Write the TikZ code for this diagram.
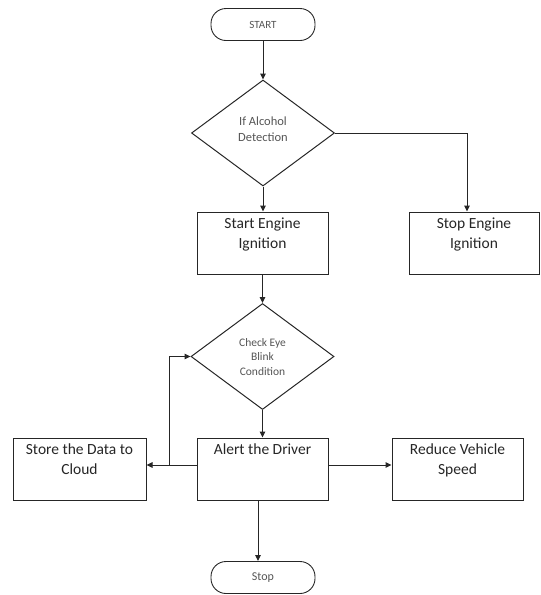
\documentclass[tikz,border=0pt]{standalone}
\usepackage{fontspec}
\setmainfont{Carlito}
\usetikzlibrary{shapes.geometric,arrows.meta}

\definecolor{ink}{HTML}{262626}
\definecolor{soft}{HTML}{555555}

\tikzset{
  terminal/.style={draw=ink, line width=0.9pt, rounded corners=15pt,
    minimum width=104pt, minimum height=32pt, inner sep=0pt,
    font=\fontsize{11}{13}\selectfont, text=soft},
  decision/.style={draw=ink, line width=1pt, diamond, inner sep=0pt,
    minimum width=143pt, minimum height=106pt},
  dectext/.style={align=center, inner sep=0pt, text=soft},
  stepbox/.style={draw=ink, line width=1pt, rectangle,
    minimum width=131pt, minimum height=62pt, inner sep=0pt},
  boxtext/.style={align=center, inner sep=0pt, anchor=north, text=ink,
    font=\fontsize{15.5}{20.5}\selectfont},
  arr/.style={draw=ink, line width=1pt, -{Triangle[length=6pt,width=5.5pt]}}
}

\begin{document}
\begin{tikzpicture}[x=1pt, y=-1pt]
  \useasboundingbox (0,0) rectangle (541,595);

  % terminals
  \node[terminal] (start) at (263,24.5) {START};
  \node[terminal, font=\fontsize{12}{14}\selectfont] (stop) at (263,577.5) {Stop};

  % decisions
  \node[decision] (d1) at (263,133) {};
  \node[dectext, font=\fontsize{12.5}{16.5}\selectfont] (d1t) at (263,129) {If Alcohol\\Detection};
  \node[decision] (d2) at (262.5,356.5) {};
  \node[dectext, font=\fontsize{11.5}{14.5}\selectfont] (d2t) at (262.5,357) {Check Eye\\Blink\\Condition};

  % process boxes
  \node[stepbox] (starteng) at (262.5,243) {};
  \node[boxtext] (startengt) at ([yshift=-6pt]starteng.north) {Start Engine\\Ignition};
  \node[stepbox, minimum width=130pt] (stopeng) at (474,243) {};
  \node[boxtext] (stopengt) at ([yshift=-6pt]stopeng.north) {Stop Engine\\Ignition};

  \node[stepbox] (alert) at (262.5,469) {};
  \node[boxtext] (alertt) at ([yshift=-6pt]alert.north) {Alert the Driver};
  \node[stepbox, minimum width=133pt] (store) at (79.5,469) {};
  \node[boxtext] (storet) at ([yshift=-6pt]store.north) {Store the Data to\\Cloud};
  \node[stepbox] (reduce) at (457.5,469) {};
  \node[boxtext] (reducet) at ([yshift=-6pt]reduce.north) {Reduce Vehicle\\Speed};

  % connectors
  \draw[arr] (start.south) -- (d1.north);
  \draw[arr] (d1.south) -- (d1.south |- starteng.north);
  \draw[arr] (d1.east) -| ([xshift=-7pt]stopeng.north);
  \draw[arr] (starteng.south) -- (d2.north);
  \draw[arr] (d2.south) -- (d2.south |- alert.north);
  \draw[arr] ([yshift=4pt]alert.west) -- ([yshift=4pt]store.east);
  \coordinate (loop) at (169,465);
  \draw[arr] (loop) |- (d2.west);
  \draw[arr] ([yshift=4pt]alert.east) -- ([yshift=4pt]reduce.west);
  \draw[arr] ([xshift=-4.5pt]alert.south) -- ([xshift=-4.5pt]alert.south |- stop.north);
\end{tikzpicture}
\end{document}
